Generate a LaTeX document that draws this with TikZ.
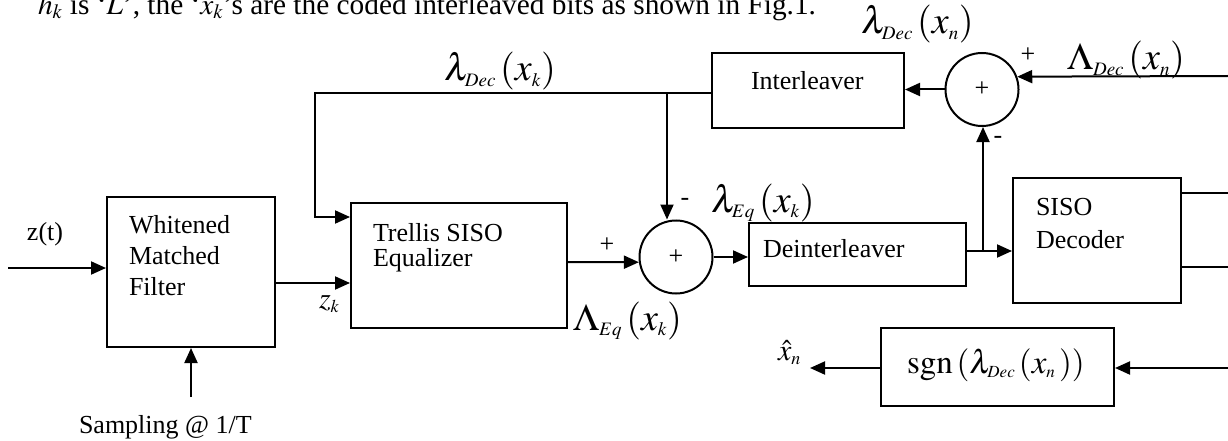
\documentclass[tikz,border=0pt]{standalone}
\usepackage{mathptmx}
\usepackage[no-math]{fontspec}
\setmainfont{Liberation Serif}
\usetikzlibrary{arrows.meta,calc}
\DeclareMathSizes{38}{38}{19}{14}
\DeclareMathSizes{33}{33}{17}{12}
\DeclareMathSizes{30}{30}{18}{13}
\DeclareMathSizes{26}{26}{18}{13}
\begin{document}
\begin{tikzpicture}[x=1pt,y=-1pt,line width=2pt,
  blk/.style={draw,rectangle,inner sep=0pt},
  sumc/.style={draw,circle,minimum size=73pt,inner sep=0pt,font=\fontsize{26}{30}\selectfont},
  arr/.style={-{Triangle[length=15pt,width=13pt]}},
  txt/.style={font=\fontsize{26}{31}\selectfont,inner sep=0pt},
  mlbl/.style={font=\fontsize{38}{44}\selectfont,inner sep=0pt,anchor=base west},
  slbl/.style={font=\fontsize{30}{36}\selectfont,inner sep=0pt,anchor=base west},
  sgnl/.style={font=\fontsize{26}{30}\selectfont,inner sep=0pt}]
\useasboundingbox (0,0) rectangle (1228,441);

% top sentence (cropped)
\node[inner sep=0pt,anchor=base west,font=\fontsize{26}{31}\selectfont] (topline) at (37,14.5)
  {\resizebox{778pt}{!}{$h_k$ is ‘$L$’, the ‘$x_k$’s are the coded interleaved bits as shown in Fig.1.}};

% blocks
\node[blk,minimum width=168pt,minimum height=150pt] (wmf) at (191,272) {};
\node[blk,minimum width=216pt,minimum height=125pt] (eq) at (459,265.5) {};
\node[blk,minimum width=192pt,minimum height=75pt] (intl) at (808,90.5) {};
\node[blk,minimum width=217pt,minimum height=63pt] (deint) at (857.5,254.5) {};
\node[blk,minimum width=168pt,minimum height=125pt] (siso) at (1097,240.5) {};
\node[blk,minimum width=233pt,minimum height=78pt] (sgnb) at (997.5,367) {};
\node[sumc] (sum1) at (676,257) {+};
\node[sumc] (sum2) at (982,89.5) {+};

% block texts
\node[txt,align=left,anchor=north west] (wmft) at (128,214) {Whitened\\Matched\\Filter};
\node[txt,align=left,anchor=north west,font=\fontsize{26}{25}\selectfont] (eqt) at (372,222) {Trellis SISO\\Equalizer};
\node[txt,anchor=base west] (intlt) at (750,90) {Interleaver};
\node[txt,anchor=base west] (deintt) at (762,257) {Deinterleaver};
\node[txt,align=left,anchor=north west,font=\fontsize{26}{33}\selectfont] (sisot) at (1035,197) {SISO\\Decoder};
\node[font=\fontsize{33}{38}\selectfont,inner sep=0pt,anchor=base west] (sgnt) at (906,373)
  {$\mathrm{sgn}\,(\lambda_{Dec}\,(x_n\,))$};

% labels
\node[mlbl] (ldk) at (443,81) {$\lambda_{Dec}\,(x_k)$};
\node[mlbl] (ldn) at (860,34) {$\lambda_{Dec}\,(x_n)$};
\node[mlbl] (Ldn) at (1066,70) {$\Lambda_{Dec}\,(x_n)$};
\node[mlbl] (leq) at (710,212) {$\lambda_{Eq}\,(x_k)$};
\node[mlbl] (Leq) at (572,330) {$\Lambda_{Eq}\,(x_k)$};
\node[slbl] (zk) at (318,308) {$z_k$};
\node[slbl] (xh) at (777,360) {$\hat{x}_n$};

\node[sgnl] (p1) at (607,245) {+};
\node[sgnl] (m1) at (685,202) {-};
\node[sgnl] (p2) at (1028,55) {+};
\node[sgnl] (m2) at (998,140) {-};

\node[txt,anchor=base] (zt) at (45,240) {z(t)};
\node[txt,anchor=base west] (samp) at (78,433) {Sampling @ 1/T};

% connectors
\coordinate (zin) at (8,268);
\draw[arr] (zin) -- (zin -| wmf.west);
\coordinate (smp) at (191,397);
\draw[arr] (smp) -- (wmf.south);
\coordinate (zkc) at ($(wmf.east)+(0,11)$);
\draw[arr] (zkc) -- (zkc -| eq.west);

\coordinate (fb) at (315,93);
\coordinate (ilw) at ($(intl.west)+(0,2.5)$);
\draw[arr] (ilw) -- (fb) |- ($(eq.north west)+(0,15)$);
\coordinate (br1) at (667,93);
\draw[arr] (br1) -- (br1 |- sum1.north);

\coordinate (eqo) at ($(eq.east)+(0,-3.5)$);
\draw[arr] (eqo) -- (sum1.188);
\draw[arr] (sum1.east) -- (sum1.east -| deint.west);

\coordinate (br2) at (983,251);
\draw[arr] (br2 -| deint.east) -- (br2 -| siso.west);
\draw[arr] (br2) -- (br2 |- sum2.south);
\draw[arr] (sum2.west) -- (sum2.west -| intl.east);
\coordinate (rin) at (1228,76);
\draw[arr] (rin) -- (sum2.20);

\coordinate (so1) at (1228,193);
\coordinate (so2) at (1228,267);
\draw (so1 -| siso.east) -- (so1);
\draw (so2 -| siso.east) -- (so2);

\coordinate (sgnin) at (1228,368);
\draw[arr] (sgnin) -- (sgnin -| sgnb.east);
\coordinate (xo) at (810,368);
\draw[arr] (xo -| sgnb.west) -- (xo);
\end{tikzpicture}
\end{document}
